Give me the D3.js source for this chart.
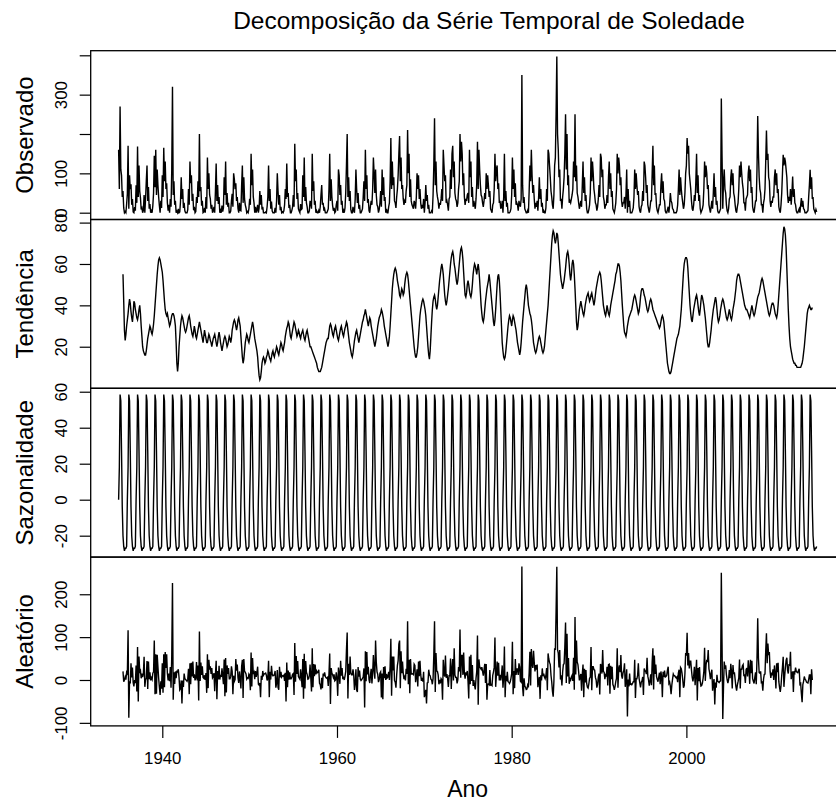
<!DOCTYPE html>
<html>
<head>
<meta charset="utf-8">
<script src="https://cdn.jsdelivr.net/npm/d3@7"></script>
<style>
  body { margin: 0; background: #fff; }
  svg { display: block; }
  text { font-family: "Liberation Sans", Arial, sans-serif; fill: #000; }
</style>
</head>
<body>
<svg id="chart" width="836" height="802"></svg>
<script>
// Monthly rainfall series (mm), Jan 1935 - Dec 2014, and its classical decomposition
const startYear = 1935;
const frequency = 12;

const observed = [
  160,60,270,110,95,40,55,12,0,3,0,22,
  48,170,10,95,60,72,20,35,2,0,14,5,
  70,25,168,40,120,55,38,8,12,0,6,45,
  0,35,80,120,30,65,10,22,0,5,0,18,
  50,145,65,160,45,110,70,40,18,0,30,12,
  95,40,165,80,130,60,75,25,5,20,0,35,
  15,110,320,45,80,20,30,0,4,0,10,0,
  2,28,90,35,60,12,25,5,0,0,0,8,
  60,20,130,75,95,30,48,6,15,0,3,40,
  25,80,40,200,55,65,18,30,0,2,12,0,
  40,10,140,60,100,45,35,10,20,0,5,15,
  0,55,125,30,70,22,40,0,6,0,18,3,
  12,90,45,130,20,50,15,25,0,0,4,30,
  48,15,100,85,60,75,30,40,10,0,25,6,
  5,70,120,25,90,35,20,12,0,3,0,10,
  35,20,150,70,110,40,25,0,15,0,8,20,
  0,12,55,20,45,8,15,0,0,0,2,0,
  15,40,120,30,60,10,28,4,0,0,0,12,
  0,30,100,55,20,45,6,15,0,2,0,5,
  20,60,35,125,40,50,12,20,0,0,6,15,
  45,15,175,80,110,35,50,10,4,0,22,8,
  10,95,40,140,30,65,25,15,0,0,5,30,
  25,10,150,55,80,20,30,0,5,0,0,6,
  0,15,45,70,20,25,5,10,0,0,0,4,
  10,60,150,30,85,40,18,5,12,0,3,20,
  30,5,110,95,45,70,20,30,0,6,0,12,
  50,120,200,40,90,30,55,8,0,0,15,5,
  0,35,110,60,25,50,10,20,0,0,4,10,
  40,80,30,160,60,95,25,35,5,0,18,30,
  20,60,140,100,50,110,45,20,15,0,8,25,
  55,15,110,45,90,30,40,0,10,0,0,15,
  25,80,190,60,130,70,90,30,25,12,40,60,
  95,150,195,80,140,60,70,35,20,30,25,55,
  70,210,100,150,40,85,30,20,15,10,30,25,
  10,40,100,60,95,35,60,25,10,20,12,35,
  0,25,70,30,45,10,20,0,0,0,5,2,
  45,120,240,70,130,55,40,30,10,25,20,35,
  60,30,160,120,80,95,25,30,20,5,35,40,
  110,60,150,170,90,130,50,35,30,15,25,60,
  80,200,130,180,150,70,100,40,20,35,30,45,
  50,25,160,90,130,40,65,15,30,20,10,35,
  75,180,60,160,110,70,45,40,25,15,30,50,
  35,100,60,95,70,40,55,10,5,0,20,25,
  60,150,80,110,120,60,75,25,30,10,15,30,
  0,40,150,30,55,15,25,0,0,0,3,10,
  45,140,60,110,40,75,20,25,20,5,30,20,
  15,35,350,70,25,40,10,5,0,0,6,0,
  55,120,80,160,95,50,70,35,10,25,15,30,
  5,40,90,35,60,15,25,0,5,0,0,12,
  60,30,160,150,120,90,55,40,20,10,45,120,
  140,250,397,200,160,90,110,30,35,10,40,60,
  90,150,250,110,200,70,95,25,30,25,35,45,
  60,130,90,250,80,120,50,40,25,10,20,30,
  15,70,130,50,90,30,45,10,0,0,8,20,
  50,140,80,130,100,60,45,25,20,5,15,35,
  70,40,150,140,90,110,40,30,10,20,20,45,
  25,90,130,60,100,40,55,10,5,0,10,25,
  60,150,100,140,120,70,90,30,15,25,25,40,
  10,45,110,0,60,15,30,0,0,0,5,12,
  40,110,60,100,70,45,55,15,5,0,15,20,
  55,30,130,120,90,50,70,20,10,0,12,30,
  30,100,170,70,120,45,50,15,5,0,10,20,
  20,70,100,50,80,35,30,5,0,0,8,15,
  0,20,50,30,25,10,8,0,0,0,0,5,
  20,60,110,45,90,60,40,25,10,20,50,100,
  120,190,150,170,100,80,60,30,10,5,20,45,
  30,80,150,50,95,30,45,10,0,5,10,20,
  60,130,90,120,100,60,70,20,10,0,15,30,
  10,50,100,40,65,20,30,5,0,0,5,10,
  290,143,10,80,110,60,50,20,5,0,10,35,
  40,90,110,70,100,50,40,20,5,0,15,25,
  60,120,90,130,100,75,60,25,25,5,35,40,
  45,100,120,80,110,50,65,15,5,0,15,30,
  30,110,246,150,90,60,50,20,20,0,25,35,
  60,130,209,134,150,90,80,30,15,30,25,40,
  40,90,110,70,100,50,60,15,5,0,20,50,
  100,147,120,140,130,110,90,45,25,40,30,60,
  20,50,92,40,60,25,20,5,0,0,5,10,
  0,20,37,15,30,10,8,0,0,0,3,5,
  40,70,109,60,90,35,40,10,5,0,8,2
];

// Centred moving average: defined from Jul 1935 to Jun 2014
const trendStart = 6;
const trend = [
  55,42,28,23,26,30,
  33,36,40,43,41,37,34,32,36,42,41,38,
  36,34,33,35,38,40,36,30,25,20,18,17,
  16,16,18,21,24,26,28,30,29,27,26,28,
  31,35,40,45,50,55,59,62,63,62,60,58,
  56,52,47,42,38,36,35,36,34,32,30,31,
  33,35,36,36,35,33,30,22,12,8,12,20,
  25,30,33,35,34,32,30,28,27,28,30,32,
  34,35,33,30,28,26,25,27,30,28,25,24,
  26,28,30,32,30,28,26,24,22,25,28,26,
  24,22,22,24,26,25,23,22,20,22,24,25,
  26,24,22,20,22,25,27,25,22,20,18,20,
  22,24,25,24,22,20,21,23,25,24,22,24,
  28,30,32,33,32,30,28,30,33,34,32,30,
  25,20,15,12,14,18,22,24,26,25,23,22,
  24,26,28,30,32,30,27,24,22,20,18,15,
  10,6,4,5,8,12,14,15,14,12,13,15,
  16,18,17,15,14,13,15,17,18,16,15,17,
  18,20,19,17,16,18,20,22,21,19,18,20,
  22,25,27,29,30,32,31,28,25,24,26,28,
  30,32,31,29,27,25,26,28,27,25,24,26,
  27,28,26,24,23,25,27,28,26,24,22,20,
  20,19,18,17,16,15,14,13,12,10,9,8,
  8,8,9,10,12,14,16,18,20,22,23,24,
  24,27,30,31,30,28,26,25,27,29,30,28,
  26,24,23,25,27,29,30,28,26,25,27,29,
  30,32,31,28,25,22,20,18,16,15,17,20,
  23,25,27,28,26,24,22,24,26,28,30,32,
  33,35,36,38,36,34,32,30,32,34,33,30,
  28,26,24,22,20,22,24,27,30,32,34,35,
  36,38,37,35,33,30,28,26,24,22,20,22,
  25,30,36,42,48,52,55,57,58,57,55,52,
  50,48,45,44,46,48,47,45,46,50,53,55,
  56,55,52,48,44,40,36,32,28,24,20,17,
  15,15,17,20,25,30,35,38,40,42,43,42,
  40,38,35,30,25,20,16,14,18,25,32,38,
  42,44,45,43,40,38,40,44,48,52,55,58,
  60,58,55,50,45,42,40,42,45,48,52,56,
  60,63,65,66,64,60,58,55,52,50,52,56,
  60,64,67,68,66,62,56,50,45,44,46,50,
  52,50,47,45,44,46,50,55,58,60,59,57,
  55,58,60,57,52,46,40,36,33,32,34,38,
  42,45,48,50,52,55,52,48,44,40,36,32,
  30,33,38,44,50,54,55,52,46,38,30,22,
  18,15,14,15,18,22,26,30,33,35,34,32,
  30,33,35,34,32,30,28,25,22,20,18,16,
  18,22,27,32,36,40,44,48,50,48,44,40,
  38,36,35,33,30,26,22,20,18,17,18,20,
  22,24,25,24,22,20,18,17,18,20,24,28,
  32,36,40,46,52,58,64,70,74,76,75,72,
  70,72,75,74,70,65,60,55,52,50,48,50,
  52,55,58,62,65,66,64,60,55,52,55,60,
  62,60,55,48,40,32,28,30,34,38,40,42,
  40,38,36,35,37,40,42,44,45,46,44,42,
  43,45,46,44,42,40,42,45,48,50,52,54,
  55,56,55,52,48,44,40,38,36,35,37,40,
  38,36,35,37,40,42,44,46,48,50,52,55,
  56,58,60,60,59,56,52,46,40,35,30,27,
  26,25,27,30,32,34,35,36,37,38,40,42,
  44,45,44,42,40,38,36,37,40,44,47,48,
  48,47,45,44,42,40,38,37,38,40,42,43,
  42,40,38,37,36,35,34,33,32,31,30,29,
  30,32,34,35,34,32,28,24,20,16,12,10,
  8,7,7,8,10,12,14,16,18,20,22,24,
  25,26,28,30,34,38,44,50,56,60,62,63,
  63,62,58,52,46,40,36,33,32,35,38,40,
  42,44,45,43,40,37,35,38,42,45,44,42,
  40,37,34,30,26,22,20,20,22,25,28,32,
  35,38,40,42,44,42,38,34,32,33,35,38,
  40,42,43,42,40,38,36,34,33,34,36,38,
  36,34,33,35,38,40,42,45,48,52,54,55,
  55,54,52,50,48,46,44,42,40,39,38,38,
  37,36,35,34,36,38,40,38,36,35,36,38,
  40,42,44,45,46,48,50,52,53,52,50,48,
  46,44,42,40,38,36,35,36,38,40,41,41,
  40,38,36,35,34,36,40,45,50,55,60,65,
  70,75,78,77,74,68,58,48,38,30,24,20,
  18,16,14,13,12,12,11,11,10,10,10,10,
  10,10,11,12,14,17,20,24,28,32,36,38,
  39,40,39,38,38,39
];

// Seasonal figure, Jan..Dec (repeats every year)
const seasonalFigure = [0, 18, 58.4, 55, 27, -4, -20, -26, -28.4, -27, -27, -26];

// Remainder, same months as the trend
const remainder = [
  20,-4,0,7,1,18,
  15,116,-88,-3,-8,39,6,29,-6,-15,0,-7,
  34,-27,77,-50,55,19,22,4,15,7,15,54,
  -16,1,4,44,-21,43,2,18,-1,5,1,16,
  19,92,-33,60,-32,59,31,4,-17,-35,-3,-20,
  39,-30,60,-17,65,28,60,15,-1,15,-3,30,
  -18,57,226,-46,18,-9,20,4,20,19,25,6,
  -23,-20,-1,-55,-1,-16,15,3,1,-1,-3,2,
  26,-33,39,-10,40,8,43,5,13,-1,5,42,
  -1,34,-48,113,-2,41,12,32,6,4,11,0,
  16,-30,60,-19,47,24,32,14,28,5,8,16,
  -26,13,45,-45,21,1,33,1,12,7,27,9,
  -10,48,-38,51,-29,34,14,28,3,3,9,32,
  20,-33,10,-3,1,49,22,36,5,-7,20,2,
  -20,32,47,-42,49,21,18,14,2,5,4,14,
  11,-24,64,-15,51,14,18,2,21,7,17,31,
  -10,-12,-7,-40,10,0,21,11,14,15,16,11,
  -1,4,45,-40,19,1,33,13,10,11,12,21,
  -18,-8,23,-17,-23,31,6,19,7,10,9,11,
  -2,17,-50,41,-17,22,1,18,3,3,7,13,
  15,-35,86,-4,56,14,44,8,5,2,25,8,
  -17,49,-44,61,-20,44,18,13,2,3,10,36,
  5,-27,74,-17,37,9,36,13,21,17,18,24,
  -8,-11,-22,5,-19,15,9,18,8,5,4,6,
  -14,15,62,-56,28,16,12,6,13,-2,0,18,
  4,-37,29,15,-9,45,10,28,2,8,0,9,
  20,70,111,-43,38,12,55,16,12,12,25,11,
  -23,-8,25,-23,-28,30,8,22,2,-1,1,4,
  7,27,-64,67,-3,65,13,31,1,-7,12,26,
  -8,16,58,23,3,92,41,19,13,-5,1,16,
  19,-41,15,-45,30,4,32,0,14,5,7,19,
  0,32,96,-37,55,22,55,-1,-5,-18,12,34,
  45,84,92,-19,67,16,43,16,2,7,-1,26,
  14,137,-10,47,-31,49,14,14,15,13,37,34,
  -5,7,25,-15,43,9,45,13,-2,5,-4,19,
  -40,-31,-23,-55,-7,-6,24,12,10,2,0,-10,
  3,58,137,-28,63,21,20,12,-10,0,-8,3,
  0,-46,47,15,8,57,5,14,3,-16,10,10,
  50,-21,27,49,-1,74,12,6,6,-8,0,30,
  20,118,5,57,57,12,64,16,3,18,11,21,
  -2,-43,55,-10,59,-2,35,-14,0,-13,-22,4,
  20,104,-58,48,31,28,25,30,20,10,23,38,
  -7,37,-46,-10,-9,-11,23,-12,-11,-13,11,19,
  30,99,-16,11,43,10,40,-1,12,-1,12,34,
  -18,7,78,-40,10,-3,19,-4,-5,-8,-4,4,
  15,89,-33,21,-19,49,12,26,26,12,39,30,
  -3,-5,265,-17,-38,4,-14,-17,-22,-21,-11,-14,
  17,66,-13,72,38,28,68,41,20,35,24,36,
  -17,-2,7,-44,11,-1,27,9,15,7,3,10,
  28,-24,62,49,41,36,11,-4,-26,-39,-3,74,
  70,160,264,71,63,29,70,1,11,-13,19,36,
  38,77,134,-7,108,8,51,-9,3,0,7,11,
  -2,52,-23,147,13,92,42,36,19,-1,7,14,
  -25,14,36,-40,26,-6,23,-8,-17,-19,-9,4,
  7,77,-24,31,31,24,23,6,0,-18,-10,7,
  15,-34,37,33,15,70,20,18,2,12,10,31,
  -13,36,37,-32,33,2,31,-10,-15,-23,-15,-4,
  4,74,-18,25,34,18,58,10,3,17,22,39,
  -16,2,25,-85,1,-15,15,-10,-9,-11,-8,-4,
  -4,47,-42,3,3,11,39,4,-7,-17,-5,-2,
  7,-35,27,21,21,14,52,9,0,-13,-3,13,
  -12,42,74,-22,57,14,36,8,1,-4,7,17,
  -10,20,8,-40,19,7,22,7,8,11,23,31,
  -8,-5,-15,-33,-12,2,14,10,10,7,5,7,
  -5,16,24,-40,29,26,16,1,-18,-13,15,63,
  57,110,34,63,27,44,44,23,6,-3,9,31,
  -12,18,47,-48,28,-3,30,-2,-14,-13,-7,4,
  20,75,-2,35,47,42,70,26,16,2,14,24,
  -25,-6,2,-57,-6,-18,12,-3,-4,-6,-3,-2,
  250,83,-91,-17,43,26,34,12,0,-7,1,23,
  4,38,19,-20,35,14,18,1,-15,-25,-12,-4,
  5,48,-20,25,25,33,36,9,13,-7,24,28,
  8,46,27,-9,47,16,45,3,-3,-8,6,18,
  -10,50,144,50,17,16,20,-6,-5,-25,2,13,
  14,68,109,39,85,58,65,20,5,17,11,25,
  0,34,16,-20,39,18,40,-4,-17,-28,-13,11,
  30,54,-16,8,29,46,52,23,15,37,33,66,
  2,16,20,-28,21,17,29,20,18,17,22,26,
  -10,-8,-32,-52,-11,-3,8,2,0,-5,-6,-7,
  1,12,12,-33,25,0
];

const chartTitle = "Decomposição da Série Temporal de Soledade";
const panelNames = ["Observado", "Tendência", "Sazonalidade", "Aleatório"];
const xLabel = "Ano";
const xTickValues = [1940, 1960, 1980, 2000];
const yTickValues = [[0, 100, 200, 300, 400], [20, 40, 60, 80], [-20, 0, 20, 40, 60], [-100, 0, 100, 200]];
const yTickLabels = [[0, 100, 300], [20, 40, 60, 80], [-20, 0, 20, 40, 60], [-100, 0, 100, 200]];
const yLimits = [[-17.3, 411.7], [-0.1, 81.5], [-31.9, 61.9], [-107.1, 286.7]];

// ---- build the four series on a common time axis ----
const timeOf = i => startYear + i / frequency;
const seriesObserved = observed.map((v, i) => ({ t: timeOf(i), v }));
const seriesTrend = trend.map((v, i) => ({ t: timeOf(i + trendStart), v }));
const seriesSeasonal = observed.map((_, i) => ({ t: timeOf(i), v: seasonalFigure[i % frequency] }));
const seriesRemainder = remainder.map((v, i) => ({ t: timeOf(i + trendStart), v }));
const panels = [seriesObserved, seriesTrend, seriesSeasonal, seriesRemainder];

// ---- layout ----
const plotLeft = 90.7, plotRight = 844.6;
const panelTop = 50.7, panelHeight = 168.8;

const svg = d3.select("#chart");
svg.append("rect").attr("width", 836).attr("height", 802).attr("fill", "#fff");

const tFirst = timeOf(0), tLast = timeOf(observed.length - 1);
const pad = (tLast - tFirst) * 0.04;
const x = d3.scaleLinear().domain([tFirst - pad, tLast + pad]).range([plotLeft, plotRight]);

panels.forEach((data, p) => {
  const top = panelTop + p * panelHeight;
  const bottom = top + panelHeight;
  const y = d3.scaleLinear().domain(yLimits[p]).range([bottom, top]);

  const g = svg.append("g");

  const line = d3.line().x(d => x(d.t)).y(d => y(d.v));
  g.append("path")
    .datum(data)
    .attr("d", line)
    .attr("fill", "none")
    .attr("stroke", "#000")
    .attr("stroke-width", 1.4)
    .attr("stroke-linejoin", "miter");

  // frame
  g.append("rect")
    .attr("x", plotLeft).attr("y", top)
    .attr("width", plotRight - plotLeft).attr("height", panelHeight)
    .attr("fill", "none").attr("stroke", "#000").attr("stroke-width", 1.3);

  // y axis, labels written along the axis
  const shown = yTickLabels[p];
  const ax = g.append("g")
    .attr("transform", `translate(${plotLeft},0)`)
    .call(d3.axisLeft(y).tickValues(yTickValues[p]).tickSize(11)
      .tickFormat(d => shown.includes(d) ? String(d) : ""));
  ax.select(".domain").remove();
  ax.selectAll(".tick line").attr("stroke", "#000").attr("stroke-width", 1.2);
  ax.selectAll(".tick text")
    .attr("transform", "rotate(-90)")
    .attr("x", 0).attr("y", -23.5).attr("dy", 0)
    .attr("text-anchor", "middle")
    .attr("font-family", "Liberation Sans, Arial, sans-serif")
    .attr("font-size", 16.8)
    .attr("fill", "#000");

  // panel name
  svg.append("text")
    .attr("transform", `translate(33,${(top + bottom) / 2}) rotate(-90)`)
    .attr("text-anchor", "middle")
    .attr("font-size", 24)
    .text(panelNames[p]);

  if (p === panels.length - 1) {
    const xa = svg.append("g")
      .attr("transform", `translate(0,${bottom})`)
      .call(d3.axisBottom(x).tickValues(xTickValues).tickSize(12).tickFormat(d3.format("d")));
    xa.select(".domain").remove();
    xa.selectAll(".tick line").attr("stroke", "#000").attr("stroke-width", 1.2);
    xa.selectAll(".tick text")
      .attr("y", 38).attr("dy", 0)
      .attr("font-family", "Liberation Sans, Arial, sans-serif")
      .attr("font-size", 16.8)
      .attr("fill", "#000");
  }
});

svg.append("text")
  .attr("x", 489).attr("y", 29)
  .attr("text-anchor", "middle")
  .attr("font-size", 24.5)
  .text(chartTitle);

svg.append("text")
  .attr("x", (plotLeft + plotRight) / 2).attr("y", 797)
  .attr("text-anchor", "middle")
  .attr("font-size", 23)
  .text(xLabel);
</script>
</body>
</html>
